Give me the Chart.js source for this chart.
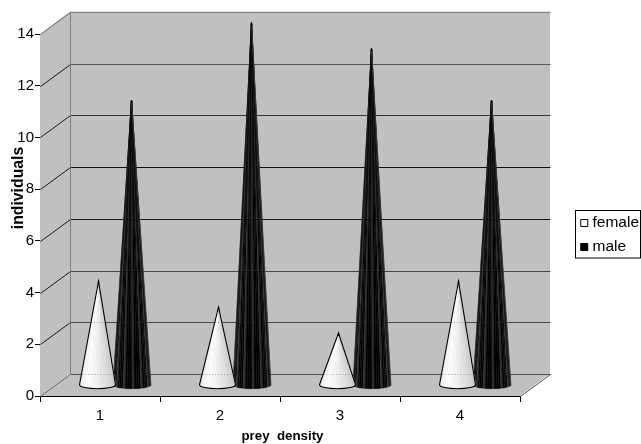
<!DOCTYPE html>
<html>
<head>
<meta charset="utf-8">
<style>html,body{margin:0;padding:0;background:#fff;overflow:hidden}canvas{display:block}</style>
<script src="https://cdn.jsdelivr.net/npm/chart.js@4"></script>
</head>
<body>
<canvas id="c" width="641" height="444"></canvas>
<script>
const categories = ["1", "2", "3", "4"];
const femaleValues = [4, 3, 2, 4];
const maleValues = [11, 14, 13, 11];
const yTicks = [0, 2, 4, 6, 8, 10, 12, 14];

const FONT = '"Liberation Sans", Arial, sans-serif';
const DEPTH_X = 30, DEPTH_Y = 22.5;
const backLineColors = {0: '#505050', 2: '#484848', 4: '#484848', 6: '#181818', 8: '#101010', 10: '#383838', 12: '#585858', 14: '#808080'};
const lightStops = [[0,226],[0.12,240],[0.32,255],[0.5,240],[0.72,218],[0.9,205],[1,222]];
const darkStops = [[0,30],[0.15,16],[0.3,4],[0.5,0],[0.7,2],[0.85,12],[1,30]];
function shade(stops, t) {
  for (let i = 1; i < stops.length; i++) {
    if (t <= stops[i][0]) {
      const a = stops[i-1], b = stops[i], f = (t-a[0])/(b[0]-a[0]);
      return a[1] + (b[1]-a[1])*f;
    }
  }
  return stops[stops.length-1][1];
}
function drawCone(ctx, apexX, cx, apexY, baseY, rx, ry, female, gridYs) {
  const N = 26;
  const stops = female ? lightStops : darkStops;
  for (let i = 0; i < N; i++) {
    const a0 = Math.PI - Math.PI*i/N, a1 = Math.PI - Math.PI*(i+1)/N;
    let g = shade(stops, (i+0.5)/N);
    if (!female && i % 4 === 1) g += 45;
    const c = Math.round(g);
    ctx.fillStyle = ctx.strokeStyle = `rgb(${c},${c},${c})`;
    ctx.lineWidth = 0.4;
    ctx.beginPath();
    ctx.moveTo(apexX, apexY);
    ctx.lineTo(cx + rx*Math.cos(a0), baseY + ry*Math.sin(a0));
    ctx.lineTo(cx + rx*Math.cos(a1), baseY + ry*Math.sin(a1));
    ctx.closePath();
    ctx.fill();
    ctx.stroke();
  }
  ctx.save();
  ctx.setLineDash([1, 2]);
  ctx.lineWidth = 1;
  ctx.strokeStyle = female ? 'rgba(120,120,120,0.55)' : 'rgba(120,120,120,0.35)';
  gridYs.forEach(gy => {
    if (gy <= apexY || gy >= baseY) return;
    const hw = rx * (gy - apexY) / (baseY - apexY);
    ctx.beginPath();
    ctx.moveTo(cx - hw + 1, gy + 0.5);
    ctx.lineTo(cx + hw - 1, gy + 0.5);
    ctx.stroke();
  });
  ctx.restore();
  if (female) {
    ctx.strokeStyle = '#000';
    ctx.lineWidth = 1.1;
    ctx.beginPath();
    ctx.moveTo(cx - rx, baseY);
    ctx.lineTo(apexX, apexY);
    ctx.lineTo(cx + rx, baseY);
    ctx.ellipse(cx, baseY, rx, ry, 0, 0, Math.PI);
    ctx.closePath();
    ctx.stroke();
  }
  ctx.fillStyle = '#000';
  ctx.fillRect(apexX - 0.8, apexY, 1.6, 3);
}
function shiftTitle(scale, dx, dy) {
  if (scale.__shifted) return;
  scale.__shifted = true;
  const orig = scale.drawTitle;
  scale.drawTitle = function () {
    const c = this.ctx;
    c.save();
    c.translate(dx, dy);
    orig.call(this);
    c.restore();
  };
}

const scene3d = {
  id: 'scene3d',
  afterLayout(chart) {
    const lg = chart.legend;
    lg.left = 575.25; lg.right = 641; lg.width = 65.75;
    lg.top = 206.75; lg.bottom = 320; lg.height = 113.25;
    shiftTitle(chart.scales.y, 1, -27);
    shiftTitle(chart.scales.x, 2.5, 0);
  },
  beforeDatasetsDraw(chart) {
    const {ctx} = chart, x = chart.scales.x, y = chart.scales.y;
    const L = x.left, R = x.right, B = y.getPixelForValue(0), T = y.getPixelForValue(14);
    ctx.save();
    ctx.fillStyle = '#c0c0c0';
    ctx.beginPath();
    ctx.moveTo(L, B); ctx.lineTo(L, T);
    ctx.lineTo(L+DEPTH_X, T-DEPTH_Y); ctx.lineTo(R+DEPTH_X, T-DEPTH_Y);
    ctx.lineTo(R+DEPTH_X, B-DEPTH_Y); ctx.lineTo(R, B);
    ctx.closePath(); ctx.fill();
    ctx.lineWidth = 1;
    ctx.translate(0.5, 0.5);
    yTicks.forEach(v => {
      const py = Math.round(y.getPixelForValue(v));
      const backY = Math.round(py - DEPTH_Y);
      ctx.strokeStyle = (v === 14 || v === 0) ? '#707070' : '#1a1a1a';
      ctx.beginPath();
      ctx.moveTo(L, py);
      ctx.lineTo(L+DEPTH_X, backY);
      ctx.stroke();
      ctx.strokeStyle = backLineColors[v];
      ctx.beginPath();
      ctx.moveTo(L+DEPTH_X, backY);
      ctx.lineTo(R+DEPTH_X, backY);
      ctx.stroke();
    });
    ctx.strokeStyle = '#808080';
    ctx.beginPath();
    ctx.moveTo(L+DEPTH_X, Math.round(T-DEPTH_Y));
    ctx.lineTo(L+DEPTH_X, Math.round(B-DEPTH_Y));
    ctx.stroke();
    ctx.strokeStyle = '#505050';
    ctx.beginPath();
    ctx.moveTo(R+DEPTH_X, Math.round(B-DEPTH_Y));
    ctx.lineTo(R, Math.round(B));
    ctx.stroke();
    ctx.restore();
  },
  beforeDatasetDraw(chart, args) {
    const {ctx} = chart, y = chart.scales.y;
    const zero = y.getPixelForValue(0);
    const gridYs = yTicks.map(v => Math.round(y.getPixelForValue(v) - DEPTH_Y));
    const female = args.index === 0;
    args.meta.data.forEach(el => {
      const apexX = el.x + DEPTH_X/2;
      drawCone(ctx, apexX, apexX + (female ? -1 : 0.5), el.y - DEPTH_Y/2, zero - DEPTH_Y/2, female ? 18 : 19, 4, female, gridYs);
    });
    return false;
  },
  afterDraw(chart) {
    const {ctx} = chart;
    ctx.save();
    ctx.strokeStyle = '#000'; ctx.lineWidth = 1;
    ctx.strokeRect(575.5, 210.5, 65, 47.5);
    ctx.restore();
  }
};

new Chart(document.getElementById('c'), {
  type: 'bar',
  data: {
    labels: categories,
    datasets: [
      {label: 'female', data: femaleValues, backgroundColor: '#ffffff', borderColor: '#000000', borderWidth: 1},
      {label: 'male', data: maleValues, backgroundColor: '#000000', borderColor: '#000000', borderWidth: 1}
    ]
  },
  plugins: [scene3d],
  options: {
    responsive: false,
    animation: false,
    devicePixelRatio: 1,
    layout: {padding: {left: 0, right: 121, top: 34, bottom: 0}},
    datasets: {bar: {categoryPercentage: 0.55, barPercentage: 1}},
    plugins: {
      tooltip: {enabled: false},
      title: {display: false},
      legend: {
        position: 'chartArea',
        align: 'start',
        labels: {
          boxWidth: 1, boxHeight: 7, padding: 8.5,
          usePointStyle: true, pointStyle: 'rect',
          color: '#000',
          font: {family: FONT, size: 15.5}
        }
      }
    },
    scales: {
      x: {
        afterFit: s => { s.height = 48; },
        border: {color: '#000', width: 1},
        grid: {drawOnChartArea: false, color: '#000', tickLength: 6, offset: true},
        ticks: {color: '#000', padding: 5, maxRotation: 0, font: {family: FONT, size: 15}},
        title: {display: true, text: 'prey  density', color: '#000', padding: {top: 0, bottom: 0},
          font: {family: FONT, size: 13.3, weight: 'bold'}}
      },
      y: {
        min: 0, max: 14,
        afterFit: s => { s.width = 40; },
        afterBuildTicks: s => { s.ticks = yTicks.map(v => ({value: v})); },
        border: {color: '#000', width: 1},
        grid: {drawOnChartArea: false, color: '#000', tickLength: 5},
        ticks: {color: '#000', padding: 1, font: {family: FONT, size: 15}},
        title: {display: true, text: 'individuals', color: '#000', padding: {top: 8, bottom: 0},
          font: {family: FONT, size: 15.8, weight: 'bold'}}
      }
    }
  }
});
</script>
</body>
</html>
